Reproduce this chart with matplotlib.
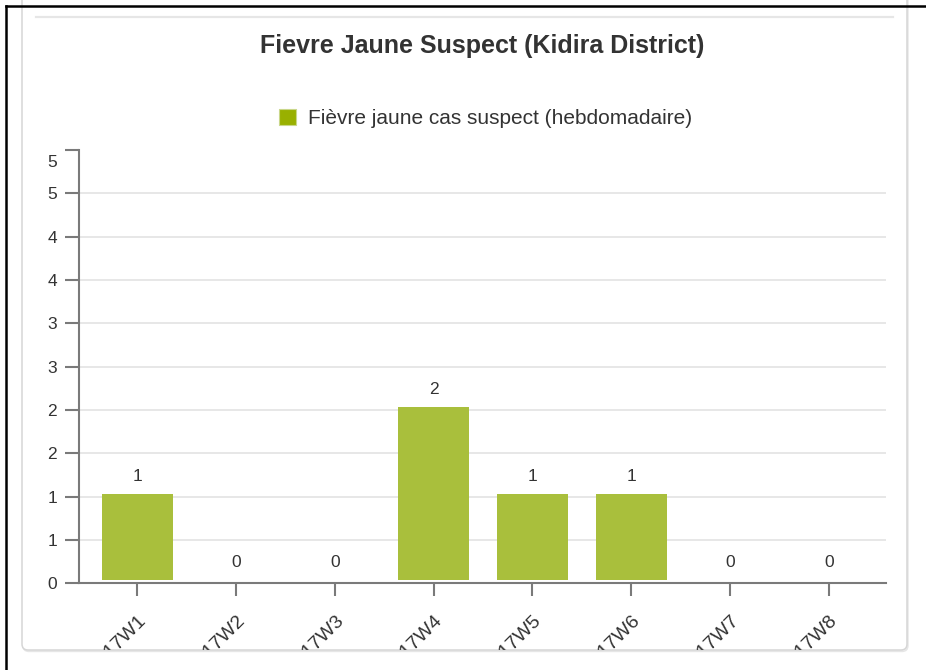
import matplotlib
matplotlib.use('Agg')
import matplotlib.pyplot as plt
from matplotlib.patches import FancyBboxPatch, Patch
from matplotlib.lines import Line2D
from matplotlib.transforms import IdentityTransform, offset_copy, Bbox
import numpy as np

plt.rcParams['font.family'] = ['Liberation Sans', 'DejaVu Sans']

# ---- data ----
categories = ['2017W1', '2017W2', '2017W3', '2017W4', '2017W5', '2017W6', '2017W7', '2017W8']
values = [1, 0, 0, 2, 1, 1, 0, 0]
y_ticks = [0, 0.5, 1, 1.5, 2, 2.5, 3, 3.5, 4, 4.5, 5]
y_tick_labels = ['0', '1', '1', '2', '2', '3', '3', '4', '4', '5', '5']
title = 'Fievre Jaune Suspect (Kidira District)'
series_name = 'Fièvre jaune cas suspect (hebdomadaire)'

W, H = 926, 670
fig = plt.figure(figsize=(W / 100, H / 100), dpi=100)
ident = IdentityTransform()

# ---- panel and frame ----
shadow = FancyBboxPatch((23, H - 651.5), 885, 700, boxstyle='round,pad=0,rounding_size=6',
                        transform=ident, fc='#f2f2f2', ec='#e6e6e6', lw=1.0, zorder=-6)
fig.add_artist(shadow)
panel = FancyBboxPatch((22, H - 650), 885, 700, boxstyle='round,pad=0,rounding_size=6',
                       transform=ident, fc='white', ec='#d6d6d6', lw=1.1, zorder=-5)
fig.add_artist(panel)
fig.add_artist(Line2D([36, 893], [H - 17, H - 17], transform=ident, color='#e6e6e6', lw=1.6, zorder=-4))
fig.add_artist(Line2D([5.5, 5.5], [0, H - 5.5], transform=ident, color='black', lw=1.8, zorder=10))
fig.add_artist(Line2D([5.5, W], [H - 5.5, H - 5.5], transform=ident, color='black', lw=1.8, zorder=10))

# ---- title ----
fig.text(482 / W, 1 - 46 / H, title, ha='center', va='center', fontsize=18,
         fontweight='bold', color='#333333')

# ---- axes ----
x0, x1, ytop, ybot = 79, 886, 150, 583.3
ax = fig.add_axes([x0 / W, 1 - ybot / H, (x1 - x0) / W, (ybot - ytop) / H])
ax.set_facecolor('none')
x = np.arange(len(categories))
ax.set_xlim(-0.59, 7.58)
ax.set_ylim(0, 5)

bar_tr = offset_copy(ax.transData, fig=fig, x=0, y=3, units='dots')
bars = ax.bar(x, values, width=0.716, color='#a9bf3c', transform=bar_tr, zorder=2,
              label=series_name)

for xi, v in zip(x, values):
    ax.annotate(str(v), (xi, v), xytext=(0, 20.5), textcoords='offset pixels',
                ha='center', va='center', fontsize=12.5, color='#333333', zorder=3)

for yt in y_ticks[1:-1]:
    ax.axhline(yt, color='#e3e3e3', lw=1.2, zorder=0)

for s in ['top', 'right']:
    ax.spines[s].set_visible(False)
for s in ['left', 'bottom']:
    ax.spines[s].set_color('#7a7a7a')
    ax.spines[s].set_linewidth(1.5)

ax.set_yticks(y_ticks)
ax.set_yticklabels(y_tick_labels[:-1] + [''])
ax.tick_params(axis='y', length=10, width=1.5, color='#7a7a7a', labelcolor='#333333',
               labelsize=12.5, pad=5.8)
# top max label sits a bit below its tick
ax.text(0, 1, y_tick_labels[-1], transform=offset_copy(ax.transAxes, fig=fig, x=-22, y=-12, units='dots'),
        ha='right', va='center', fontsize=12.5, color='#333333')

ax.set_xticks(x)
ax.set_xticklabels([''] * len(categories))
ax.tick_params(axis='x', length=9.4, width=1.5, color='#7a7a7a')

# category labels are partly hidden by the bottom edge of the panel, as in the source
clip = Bbox.from_extents(0, H - 650, W, H)
lab_tr = offset_copy(ax.get_xaxis_transform(), fig=fig, x=0, y=-29, units='dots')
for xi, c in zip(x, categories):
    t = ax.text(xi, 0, c, transform=lab_tr, rotation=45, rotation_mode='anchor',
                ha='right', va='top', fontsize=14, color='#333333')
    t.set_clip_box(clip)
    t.set_clip_on(True)

fig.legend(handles=[Patch(fc='#99b000', ec='#c9d78a', lw=0.8)], labels=[series_name],
           loc='center', bbox_to_anchor=(485.5 / W, 1 - 118.5 / H), frameon=False,
           fontsize=15, handlelength=0.8, handleheight=0.8, handletextpad=0.6,
           borderpad=0, labelcolor='#333333')

fig.savefig('out.png', dpi=100)
